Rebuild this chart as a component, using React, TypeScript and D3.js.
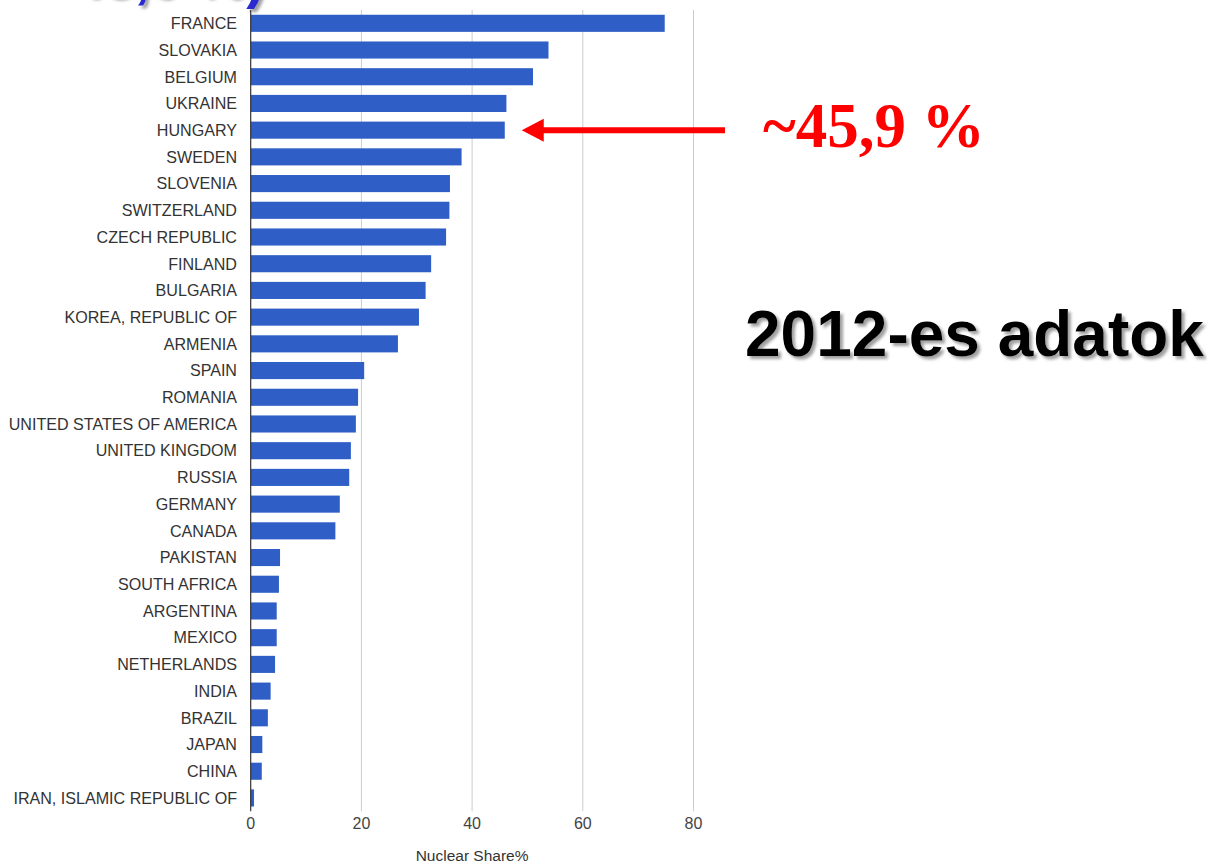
import React from "react";
import * as d3 from "d3";

const countries: string[] = [
  "FRANCE", "SLOVAKIA", "BELGIUM", "UKRAINE", "HUNGARY", "SWEDEN", "SLOVENIA",
  "SWITZERLAND", "CZECH REPUBLIC", "FINLAND", "BULGARIA", "KOREA, REPUBLIC OF",
  "ARMENIA", "SPAIN", "ROMANIA", "UNITED STATES OF AMERICA", "UNITED KINGDOM",
  "RUSSIA", "GERMANY", "CANADA", "PAKISTAN", "SOUTH AFRICA", "ARGENTINA",
  "MEXICO", "NETHERLANDS", "INDIA", "BRAZIL", "JAPAN", "CHINA",
  "IRAN, ISLAMIC REPUBLIC OF",
];
const nuclearShare: number[] = [
  74.8, 53.8, 51.0, 46.2, 45.9, 38.1, 36.0, 35.9, 35.3, 32.6, 31.6, 30.4,
  26.6, 20.5, 19.4, 19.0, 18.1, 17.8, 16.1, 15.3, 5.3, 5.1, 4.7, 4.7, 4.4,
  3.6, 3.1, 2.1, 2.0, 0.6,
];
const xTicks: number[] = [0, 20, 40, 60, 80];
const xAxisTitle = "Nuclear Share%";
const highlight = "HUNGARY";
const highlightLabel = "~45,9 %";
const sideTitle = "2012-es adatok";
const topFragment = "45,9 %)";

const W = 1207;
const H = 863;

export default function App() {
  const x = d3.scaleLinear().domain([0, 80]).range([250.7, 693.5]);
  const y = d3
    .scaleBand<string>()
    .domain(countries)
    .range([9.95, 811.3])
    .paddingInner(0.36)
    .paddingOuter(0.18);
  const bw = y.bandwidth();
  const font = "'Liberation Sans', Arial, Helvetica, sans-serif";

  const hIdx = countries.indexOf(highlight);
  const hy = (y(highlight) ?? 0) + bw / 2;
  const tipX = x(nuclearShare[hIdx]) + 17;
  const lineEnd = 725;

  return (
    <svg
      width={W}
      height={H}
      viewBox={`0 0 ${W} ${H}`}
      style={{ position: "absolute", left: 0, top: 0, background: "#fff" }}
    >
      <defs>
        <filter id="shadow" x="-5%" y="-20%" width="115%" height="150%">
          <feDropShadow dx="3" dy="3" stdDeviation="1.5" floodColor="#777" floodOpacity="0.7" />
        </filter>
      </defs>
      <rect x={0} y={0} width={W} height={H} fill="#fff" />

      {/* cut-off slide title fragment (only its bottom edge is visible) */}
      <text
        x={72}
        y={-3}
        fontFamily={font}
        fontWeight="bold"
        fontSize={56}
        fill="#2a2ad0"
        filter="url(#shadow)"
      >
        {topFragment}
      </text>

      {/* gridlines */}
      {xTicks.filter((t) => t !== 0).map((t) => (
        <line
          key={t}
          x1={x(t)}
          x2={x(t)}
          y1={9.95}
          y2={811.3}
          stroke="#cccccc"
          strokeWidth={1}
        />
      ))}

      {/* bars */}
      {countries.map((c, i) => (
        <rect
          key={c}
          x={x(0)}
          y={y(c)}
          width={x(nuclearShare[i]) - x(0)}
          height={bw}
          fill="#2f5fc6"
        />
      ))}

      {/* baseline axis */}
      <line x1={x(0)} x2={x(0)} y1={9.95} y2={811.3} stroke="#333" strokeWidth={1.2} />

      {/* category labels */}
      {countries.map((c) => (
        <text
          key={c}
          x={237}
          y={(y(c) ?? 0) + bw / 2}
          dy="0.36em"
          textAnchor="end"
          fontFamily={font}
          fontSize={16.1}
          fill="#333"
        >
          {c}
        </text>
      ))}

      {/* x tick labels */}
      {xTicks.map((t) => (
        <text
          key={t}
          x={x(t)}
          y={829}
          textAnchor="middle"
          fontFamily={font}
          fontSize={16}
          fill="#444"
        >
          {t}
        </text>
      ))}
      <text
        x={x(40)}
        y={861}
        textAnchor="middle"
        fontFamily={font}
        fontSize={15.5}
        fill="#333"
      >
        {xAxisTitle}
      </text>

      {/* red arrow annotation */}
      <line
        x1={tipX + 18}
        x2={lineEnd}
        y1={hy}
        y2={hy}
        stroke="#ff0000"
        strokeWidth={6}
      />
      <polygon
        points={`${tipX},${hy} ${tipX + 22},${hy - 11.5} ${tipX + 22},${hy + 11.5}`}
        fill="#ff0000"
      />
      <text
        x={763}
        y={147}
        fontFamily="'Liberation Serif', 'Times New Roman', serif"
        fontWeight="bold"
        fontSize={63}
        fill="#ff0000"
      >
        {highlightLabel}
      </text>

      {/* side title */}
      <text
        x={745}
        y={356}
        fontFamily={font}
        fontWeight="bold"
        fontSize={64}
        fill="#000"
        filter="url(#shadow)"
      >
        {sideTitle}
      </text>
    </svg>
  );
}
